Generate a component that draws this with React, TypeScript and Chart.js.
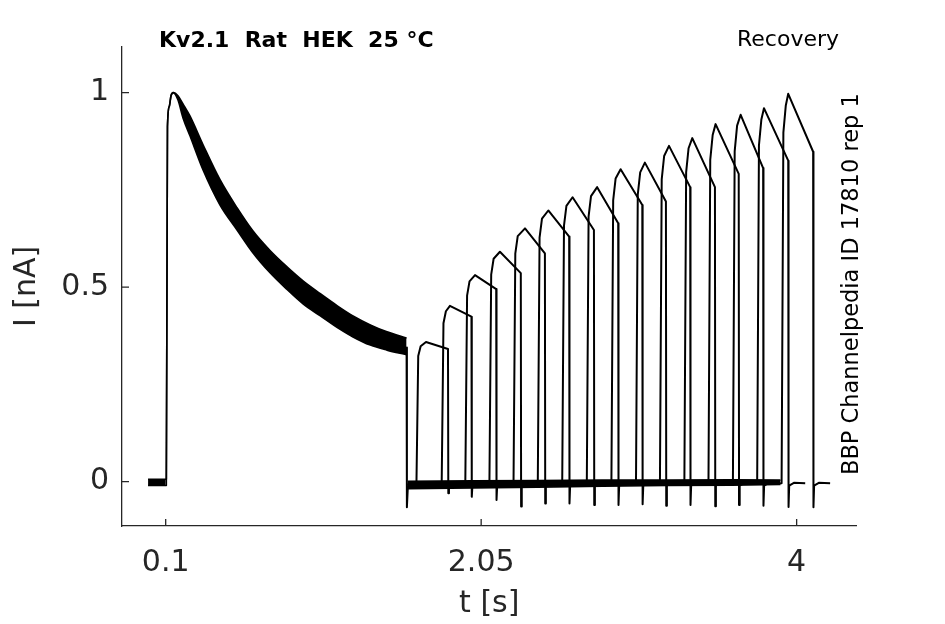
import React, { useEffect, useRef } from 'react';
import { Chart, registerables } from 'chart.js';

Chart.register(...registerables);

// ---- axis ticks ----
const X_TICKS = [0.1, 2.05, 4];
const X_TICK_LABELS = ['0.1', '2.05', '4'];
const Y_TICKS = [0, 0.5, 1];
const Y_TICK_LABELS = ['0', '0.5', '1'];

// ---- conditioning pulse (overlaid sweeps form a band: upper / lower envelope) ----
const decayT = [-0.009, 0.104, 0.111, 0.122, 0.133, 0.147, 0.176, 0.207, 0.25, 0.331, 0.436, 0.541, 0.64, 0.745, 0.85, 0.949, 1.056, 1.161, 1.258, 1.365, 1.468, 1.589];
const decayUpper = [0.006, 0.006, 0.912, 0.964, 0.992, 1.0, 0.992, 0.971, 0.94, 0.866, 0.776, 0.704, 0.644, 0.594, 0.552, 0.516, 0.483, 0.452, 0.426, 0.403, 0.385, 0.369];
const decayLower = [-0.01, -0.01, 0.912, 0.964, 0.992, 1.0, 0.981, 0.935, 0.889, 0.801, 0.711, 0.647, 0.588, 0.537, 0.494, 0.457, 0.426, 0.396, 0.372, 0.351, 0.338, 0.326];

// end of conditioning pulse
const dropT = [1.589, 1.591, 1.597];
const dropI = [0.345, -0.066, -0.012];

// baseline band between pulses (overlaid noisy sweeps)
const baseT = [1.597, 2.0, 2.4, 2.8, 3.2, 3.6, 3.9];
const baseUpper = [0.001, 0.002, 0.003, 0.004, 0.004, 0.005, 0.004];
const baseLower = [-0.018, -0.016, -0.014, -0.012, -0.01, -0.009, -0.007];

// ---- test pulses, one per sweep ----
const riseT = [1.65, 1.806, 1.952, 2.101, 2.25, 2.4, 2.551, 2.703, 2.855, 3.007, 3.155, 3.306, 3.455, 3.606, 3.756, 3.907];
const knee1T = [1.661, 1.817, 1.963, 2.112, 2.261, 2.411, 2.562, 2.714, 2.866, 3.018, 3.166, 3.317, 3.466, 3.617, 3.767, 3.918];
const knee1I = [0.323, 0.407, 0.478, 0.532, 0.586, 0.627, 0.658, 0.681, 0.723, 0.738, 0.777, 0.795, 0.827, 0.849, 0.864, 0.897];
const knee2T = [1.676, 1.832, 1.978, 2.127, 2.276, 2.426, 2.577, 2.729, 2.881, 3.033, 3.181, 3.332, 3.481, 3.632, 3.782, 3.933];
const knee2I = [0.348, 0.438, 0.515, 0.573, 0.631, 0.676, 0.709, 0.734, 0.779, 0.795, 0.837, 0.857, 0.891, 0.915, 0.931, 0.967];
const peakT = [1.709, 1.857, 2.012, 2.166, 2.321, 2.465, 2.615, 2.767, 2.912, 3.062, 3.211, 3.355, 3.499, 3.654, 3.798, 3.948];
const peakI = [0.359, 0.452, 0.531, 0.591, 0.651, 0.697, 0.731, 0.757, 0.803, 0.82, 0.863, 0.883, 0.919, 0.943, 0.96, 0.997];
const endT = [1.845, 1.99, 2.143, 2.295, 2.444, 2.594, 2.747, 2.897, 3.046, 3.192, 3.342, 3.495, 3.642, 3.793, 3.948, 4.102];
const endI = [0.341, 0.424, 0.495, 0.536, 0.587, 0.63, 0.647, 0.664, 0.711, 0.72, 0.757, 0.757, 0.791, 0.806, 0.825, 0.848];
const dipI = [-0.03, -0.039, -0.047, -0.064, -0.056, -0.056, -0.06, -0.06, -0.058, -0.062, -0.06, -0.063, -0.06, -0.062, -0.065, -0.066];
// tail shape after each test pulse (time after pulse end, current)
const tailDt = [0.002, 0.006, 0.035, 0.105];
const tailI = [0, -0.01, -0.003, -0.004];

const INK = '#000000';
const AXIS = '#262626';
const FONT = '"DejaVu Sans", sans-serif';

type P = { x: number; y: number };
const zip = (xs: number[], ys: number[]): P[] => xs.map((x, i) => ({ x, y: ys[i] }));

const lineDs = (data: P[], extra: Record<string, unknown> = {}) => ({
  data,
  borderColor: INK,
  backgroundColor: INK,
  borderWidth: 2,
  pointRadius: 0,
  tension: 0,
  fill: false,
  borderJoinStyle: 'round' as const,
  ...extra,
});

const annotPlugin = {
  id: 'annot',
  afterDraw(chart: any) {
    const { ctx, chartArea, scales } = chart;
    ctx.save();
    ctx.strokeStyle = AXIS;
    ctx.lineWidth = 1.3;
    ctx.beginPath();
    X_TICKS.forEach((v) => {
      const px = scales.x.getPixelForValue(v);
      ctx.moveTo(px, chartArea.bottom);
      ctx.lineTo(px, chartArea.bottom - 7);
    });
    Y_TICKS.forEach((v) => {
      const py = scales.y.getPixelForValue(v);
      ctx.moveTo(chartArea.left, py);
      ctx.lineTo(chartArea.left + 7, py);
    });
    ctx.stroke();

    ctx.fillStyle = INK;
    ctx.textBaseline = 'alphabetic';
    ctx.textAlign = 'left';
    ctx.font = `bold 22px ${FONT}`;
    ctx.fillText('Kv2.1  Rat  HEK  25 °C', 159, 47);
    ctx.font = `22px ${FONT}`;
    ctx.fillText('Recovery', 737, 46);
    ctx.font = `22.5px ${FONT}`;
    ctx.translate(858, 475);
    ctx.rotate(-Math.PI / 2);
    ctx.fillText('BBP Channelpedia ID 17810 rep 1', 0, 0);
    ctx.restore();
  },
};

export default function App() {
  const ref = useRef<HTMLCanvasElement>(null);
  useEffect(() => {
    const canvas = ref.current;
    if (!canvas) return;
    const sweeps = riseT.map((_, i) =>
      lineDs([
        { x: 1.597, y: -0.008 },
        { x: riseT[i], y: -0.004 },
        { x: knee1T[i], y: knee1I[i] },
        { x: knee2T[i], y: knee2I[i] },
        { x: peakT[i], y: peakI[i] },
        { x: endT[i], y: endI[i] },
        ...tailDt.map((dt, j) => ({ x: endT[i] + dt, y: j === 0 ? dipI[i] : tailI[j] })),
      ])
    );
    const band = { borderWidth: 1.6, cubicInterpolationMode: 'monotone' };
    const chart = new Chart(canvas, {
      type: 'line',
      data: {
        datasets: [
          lineDs(zip(decayT, decayUpper), { ...band, fill: '+1' }),
          lineDs(zip(decayT, decayLower), band),
          lineDs(zip(baseT, baseUpper), { borderWidth: 1.6, fill: '+1' }),
          lineDs(zip(baseT, baseLower), { borderWidth: 1.6 }),
          lineDs(zip(dropT, dropI)),
          ...sweeps,
        ] as any,
      },
      options: {
        animation: false,
        responsive: false,
        devicePixelRatio: 1,
        layout: { padding: { left: 0, right: 88.5, top: 46.7, bottom: 0 } },
        plugins: { legend: { display: false }, tooltip: { enabled: false } },
        scales: {
          x: {
            type: 'linear',
            min: -0.17,
            max: 4.37,
            afterBuildTicks: (s: any) => {
              s.ticks = X_TICKS.map((v) => ({ value: v }));
            },
            afterFit: (s: any) => {
              s.height = 98;
            },
            ticks: {
              callback: (_v: any, i: number) => X_TICK_LABELS[i],
              font: { family: FONT, size: 30 },
              color: AXIS,
              padding: 19,
              maxRotation: 0,
              autoSkip: false,
            },
            grid: { display: false, drawTicks: false },
            border: { display: true, color: AXIS, width: 1.3 },
            title: {
              display: true,
              text: 't [s]',
              font: { family: FONT, size: 30 },
              color: AXIS,
              padding: { top: 0, bottom: 2 },
            },
          },
          y: {
            type: 'linear',
            min: -0.114,
            max: 1.118,
            afterBuildTicks: (s: any) => {
              s.ticks = Y_TICKS.map((v) => ({ value: v }));
            },
            afterFit: (s: any) => {
              s.width = 122;
            },
            ticks: {
              callback: (_v: any, i: number) => Y_TICK_LABELS[i],
              font: { family: FONT, size: 30 },
              color: AXIS,
              padding: 13,
              autoSkip: false,
            },
            grid: { display: false, drawTicks: false },
            border: { display: true, color: AXIS, width: 1.3 },
            title: {
              display: true,
              text: 'I [nA]',
              font: { family: FONT, size: 30 },
              color: AXIS,
              padding: { top: 9.5, bottom: 0 },
            },
          },
        },
      } as any,
      plugins: [annotPlugin],
    });
    return () => chart.destroy();
  }, []);
  return (
    <div style={{ position: 'fixed', left: 0, top: 0, width: 945, height: 624, background: '#ffffff' }}>
      <canvas ref={ref} width={945} height={624} style={{ width: 945, height: 624, display: 'block' }} />
    </div>
  );
}
